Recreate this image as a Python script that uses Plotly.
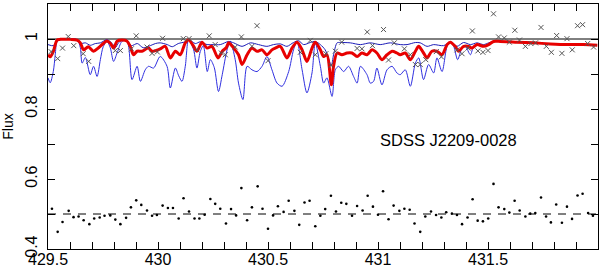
import plotly.graph_objects as go

# ---- data ----
red_wl = [429.500,429.510,429.524,429.541,429.556,429.601,429.632,429.647,429.662,429.683,429.707,429.730,429.753,429.768,429.783,429.798,429.814,429.836,429.859,429.874,429.889,429.905,429.927,429.956,429.973,429.995,430.010,430.033,430.056,430.079,430.101,430.124,430.139,430.162,430.177,430.200,430.223,430.245,430.273,430.292,430.310,430.321,430.344,430.366,430.382,430.405,430.427,430.450,430.473,430.495,430.518,430.533,430.556,430.586,430.609,430.632,430.655,430.677,430.700,430.715,430.738,430.753,430.768,430.788,430.798,430.814,430.836,430.859,430.882,430.905,430.927,430.950,430.973,430.995,431.018,431.041,431.064,431.086,431.101,431.124,431.147,431.170,431.185,431.207,431.223,431.245,431.268,431.291,431.314,431.329,431.351,431.366,431.389,431.412,431.427,431.450,431.480,431.503,431.525,431.556,431.632,431.707,431.783,431.859,431.935,431.997]
red_flux = [0.955,0.949,0.964,0.997,0.999,0.999,0.997,0.989,0.969,0.978,0.965,0.975,0.988,0.994,0.988,0.974,0.994,0.997,0.994,0.978,0.955,0.965,0.965,0.974,0.965,0.968,0.972,0.979,0.946,0.965,0.955,0.989,0.998,0.979,0.965,0.991,0.974,0.979,0.946,0.965,0.975,0.989,0.974,0.955,0.927,0.955,0.974,0.965,0.969,0.955,0.969,0.974,0.979,0.946,0.974,0.991,0.969,0.936,0.974,0.991,0.969,0.950,0.955,0.869,0.922,0.960,0.955,0.960,0.960,0.950,0.960,0.955,0.969,0.960,0.941,0.955,0.965,0.960,0.955,0.960,0.941,0.965,0.979,0.960,0.946,0.965,0.965,0.955,0.984,0.991,0.979,0.965,0.979,0.979,0.974,0.984,0.979,0.984,0.993,0.993,0.991,0.989,0.986,0.984,0.984,0.982]

blue_up_wl = [429.500,429.524,429.541,429.556,429.632,429.647,429.670,429.692,429.715,429.738,429.768,429.792,429.806,429.820,429.833,429.856,429.879,429.906,429.933,429.965,429.988,430.010,430.042,430.065,430.092,430.124,430.139,430.170,430.192,430.223,430.251,430.283,430.321,430.344,430.382,430.420,430.457,430.495,430.525,430.556,430.586,430.616,430.639,430.662,430.692,430.715,430.738,430.760,430.774,430.788,430.798,430.814,430.829,430.874,430.920,430.965,431.010,431.056,431.101,431.132,431.170,431.192,431.223,431.253,431.298,431.329,431.359,431.389,431.420,431.450,431.480,431.503,431.525]
blue_up_flux = [0.984,0.981,0.995,0.998,0.998,0.987,0.989,0.982,0.987,0.989,0.998,0.987,0.975,0.989,0.995,0.998,0.981,0.987,0.975,0.981,0.987,0.989,0.984,0.978,0.987,0.992,0.998,0.987,0.992,0.984,0.984,0.984,0.993,0.989,0.979,0.989,0.984,0.979,0.984,0.986,0.979,0.990,0.995,0.984,0.990,0.993,0.984,0.969,0.947,0.924,0.955,0.989,0.990,0.989,0.984,0.989,0.984,0.989,0.984,0.984,0.990,0.989,0.979,0.984,0.981,0.991,0.979,0.990,0.984,0.989,0.984,0.989,0.993]

blue_lo_wl = [429.500,429.510,429.524,429.533,429.541,429.556,429.632,429.647,429.655,429.670,429.692,429.707,429.723,429.738,429.751,429.768,429.783,429.798,429.814,429.836,429.859,429.882,429.905,429.920,429.942,429.957,429.980,430.010,430.041,430.056,430.079,430.094,430.109,430.124,430.139,430.162,430.177,430.192,430.206,430.224,430.238,430.256,430.275,430.292,430.314,430.329,430.351,430.366,430.386,430.405,430.427,430.450,430.473,430.495,430.518,430.541,430.564,430.594,430.616,430.632,430.655,430.677,430.700,430.715,430.738,430.753,430.768,430.791,430.806,430.821,430.844,430.866,430.889,430.905,430.920,430.950,430.965,430.980,430.995,431.018,431.041,431.064,431.086,431.101,431.124,431.147,431.170,431.185,431.207,431.230,431.253,431.268,431.291,431.314,431.329,431.344,431.362,431.382,431.397,431.420,431.435,431.457,431.480,431.503,431.525]
blue_lo_flux = [0.889,0.875,0.907,0.955,0.992,0.998,0.998,0.975,0.931,0.947,0.898,0.922,0.893,0.941,0.978,0.993,0.975,0.936,0.960,0.993,0.996,0.884,0.922,0.879,0.912,0.922,0.917,0.950,0.922,0.860,0.917,0.895,0.879,0.922,0.998,0.969,0.917,0.964,0.981,0.907,0.941,0.918,0.850,0.898,0.969,0.993,0.941,0.874,0.827,0.922,0.912,0.907,0.922,0.950,0.912,0.874,0.865,0.907,0.969,0.993,0.912,0.846,0.903,0.989,0.922,0.874,0.889,0.836,0.912,0.922,0.907,0.922,0.893,0.874,0.922,0.898,0.874,0.879,0.917,0.869,0.912,0.922,0.903,0.898,0.912,0.865,0.931,0.946,0.884,0.927,0.903,0.946,0.907,0.979,0.991,0.979,0.941,0.974,0.979,0.955,0.979,0.984,0.979,0.984,0.993]

obs_wl = [429.514,429.544,429.566,429.592,429.617,429.660,429.685,429.806,429.829,429.879,429.901,429.950,429.973,429.997,430.021,430.115,430.141,430.177,430.233,430.260,430.288,430.306,430.351,430.379,430.427,430.450,430.500,430.647,430.692,430.715,430.763,430.786,430.806,430.835,430.905,430.927,430.951,430.975,431.025,431.048,431.074,431.120,431.147,431.170,431.192,431.217,431.265,431.288,431.359,431.382,431.409,431.429,431.454,431.477,431.500,431.525,431.548,431.574,431.597,431.622,431.643,431.670,431.695,431.716,431.741,431.765,431.788,431.812,431.836,431.859,431.883,431.907,431.930,431.953,431.980]
obs_flux = [0.964,0.944,0.974,1.007,0.981,0.958,0.936,0.967,0.967,0.972,1.009,0.977,0.959,0.963,1.002,1.001,1.001,0.969,1.009,0.984,0.960,0.955,0.977,1.006,0.979,1.038,0.938,0.962,0.996,0.955,0.958,0.925,0.965,0.991,0.973,0.972,1.020,0.981,1.027,0.940,0.989,0.972,0.955,0.927,0.927,0.941,0.964,0.949,0.969,0.958,0.974,1.023,0.966,0.962,0.967,1.072,1.006,1.003,0.991,1.025,0.997,0.979,0.987,0.989,1.033,0.979,0.962,1.010,0.959,1.001,0.969,1.038,1.041,0.987,0.977]

res_wl = [429.518,429.544,429.566,429.594,429.616,429.639,429.662,429.688,429.710,429.735,429.757,429.783,429.806,429.829,429.855,429.877,429.901,429.924,429.950,429.973,429.995,430.021,430.045,430.068,430.094,430.116,430.141,430.166,430.188,430.212,430.238,430.260,430.283,430.309,430.332,430.355,430.379,430.405,430.427,430.453,430.475,430.500,430.523,430.545,430.571,430.594,430.620,430.642,430.666,430.689,430.715,430.738,430.760,430.786,430.809,430.833,430.856,430.882,430.905,430.930,430.953,430.977,431.000,431.023,431.048,431.071,431.097,431.120,431.144,431.166,431.192,431.215,431.241,431.264,431.288,431.310,431.336,431.359,431.382,431.407,431.430,431.453,431.477,431.501,431.525,431.548,431.574,431.597,431.621,431.644,431.670,431.692,431.715,431.741,431.764,431.786,431.810,431.836,431.859,431.882,431.907,431.930,431.955,431.977]
res_flux = [0.515,0.449,0.477,0.509,0.491,0.493,0.482,0.471,0.487,0.490,0.495,0.496,0.484,0.471,0.489,0.519,0.539,0.526,0.510,0.495,0.497,0.524,0.517,0.517,0.487,0.545,0.507,0.487,0.487,0.498,0.543,0.529,0.515,0.473,0.514,0.496,0.574,0.482,0.519,0.579,0.515,0.458,0.496,0.522,0.506,0.538,0.509,0.469,0.533,0.538,0.465,0.495,0.514,0.552,0.507,0.532,0.529,0.495,0.523,0.510,0.552,0.521,0.498,0.565,0.485,0.524,0.509,0.515,0.512,0.473,0.449,0.493,0.507,0.497,0.490,0.505,0.501,0.497,0.471,0.490,0.542,0.481,0.479,0.487,0.586,0.519,0.514,0.504,0.538,0.510,0.493,0.501,0.503,0.547,0.493,0.476,0.527,0.475,0.521,0.486,0.553,0.558,0.503,0.495]

x_range = [429.5, 432.0]
y_range = [0.4, 1.1]
x_ticks = [429.5, 430, 430.5, 431, 431.5]
x_ticklabels = ["429.5", "430", "430.5", "431", "431.5"]
y_ticks = [0.4, 0.6, 0.8, 1.0]
y_ticklabels = ["0.4", "0.6", "0.8", "1"]
continuum = 1.0
residual_zero = 0.5
label_text = "SDSS J2209-0028"

FONT = "Liberation Sans, Arial, Helvetica, sans-serif"

fig = go.Figure()
fig.add_trace(go.Scatter(x=x_range, y=[continuum, continuum], mode="lines",
                         line=dict(color="black", width=1), hoverinfo="skip"))
fig.add_trace(go.Scatter(x=x_range, y=[residual_zero, residual_zero], mode="lines",
                         line=dict(color="black", width=1, dash="8px,7px"), hoverinfo="skip"))
fig.add_trace(go.Scatter(x=blue_lo_wl, y=blue_lo_flux, mode="lines",
                         line=dict(color="#2f2fe0", width=1, shape="spline", smoothing=0.8)))
fig.add_trace(go.Scatter(x=blue_up_wl, y=blue_up_flux, mode="lines",
                         line=dict(color="#1c1cb8", width=1, shape="spline", smoothing=0.8)))
fig.add_trace(go.Scatter(x=red_wl, y=red_flux, mode="lines",
                         line=dict(color="#e80000", width=3, shape="spline", smoothing=0.8)))
fig.add_trace(go.Scatter(x=obs_wl, y=obs_flux, mode="markers",
                         marker=dict(symbol="x-thin", size=5, line=dict(color="#555555", width=1))))
fig.add_trace(go.Scatter(x=res_wl, y=res_flux, mode="markers",
                         marker=dict(symbol="circle", size=2.6, color="black")))

fig.add_annotation(x=431.32, y=0.712, text=label_text, showarrow=False,
                   font=dict(family=FONT, size=16.5, color="black"))

fig.update_layout(
    width=600, height=270,
    margin=dict(l=48, r=2, t=4, b=21),
    paper_bgcolor="white", plot_bgcolor="white",
    showlegend=False,
    font=dict(family=FONT, size=16, color="black"),
)
fig.update_xaxes(range=x_range, tickvals=x_ticks, ticktext=x_ticklabels, automargin=False,
                 ticks="inside", ticklen=7, tickwidth=1, tickcolor="black",
                 ticklabelstandoff=-4,
                 minor=dict(dtick=0.1, tick0=429.5, ticks="inside", ticklen=7, tickcolor="black"),
                 showline=True, linecolor="black", linewidth=1, mirror="allticks",
                 showgrid=False, zeroline=False, tickfont=dict(size=16))
fig.update_yaxes(range=y_range, tickvals=y_ticks, ticktext=y_ticklabels, automargin=False,
                 ticks="inside", ticklen=7, tickwidth=1, tickcolor="black", tickangle=-90,
                 ticklabelstandoff=4,
                 minor=dict(dtick=0.1, tick0=0.4, ticks="inside", ticklen=7, tickcolor="black"),
                 showline=True, linecolor="black", linewidth=1, mirror="allticks",
                 showgrid=False, zeroline=False, tickfont=dict(size=16),
                 title=dict(text="Flux", font=dict(size=14), standoff=6))

fig.write_html("out.html", config={"displayModeBar": False},
               post_script="document.body.style.margin='0';document.body.style.overflow='hidden';")
